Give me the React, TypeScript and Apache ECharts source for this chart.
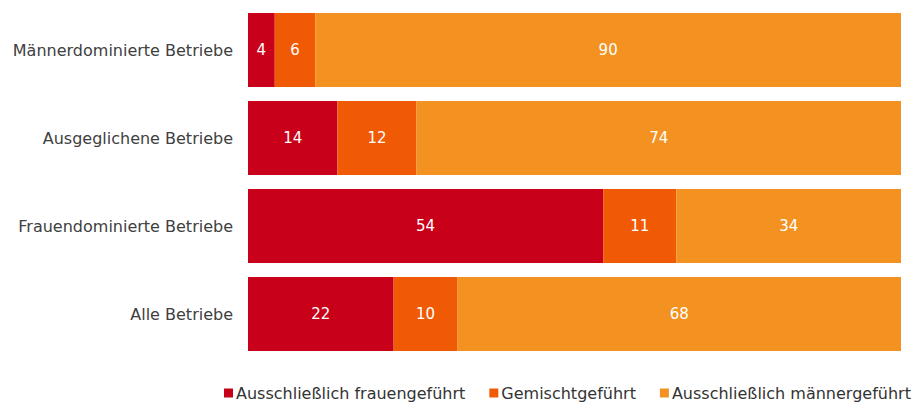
import React, { useEffect, useRef } from "react";
import * as echarts from "echarts";

const categories = [
  "Männerdominierte Betriebe",
  "Ausgeglichene Betriebe",
  "Frauendominierte Betriebe",
  "Alle Betriebe",
];
const seriesNames = [
  "Ausschließlich frauengeführt",
  "Gemischtgeführt",
  "Ausschließlich männergeführt",
];
const frauen = [4.1, 13.7, 54.4, 22.3];
const gemischt = [6.2, 12.1, 11.2, 9.8];
const maenner = [89.7, 74.2, 34.4, 67.9];
const colors = ["#C8001A", "#F05A05", "#F39220"];

export default function App() {
  const ref = useRef<HTMLDivElement>(null);
  useEffect(() => {
    if (!ref.current) return;
    const chart = echarts.init(ref.current, null, { renderer: "svg" });
    const font = "DejaVu Sans, Verdana, sans-serif";
    const data = [frauen, gemischt, maenner];
    chart.setOption({
      animation: false,
      textStyle: { fontFamily: font },
      grid: { left: 248, right: 16, top: 6, bottom: 45, containLabel: false },
      legend: {
        left: 219,
        top: 380,
        itemWidth: 9,
        itemHeight: 9,
        itemGap: 24,
        icon: "rect",
        textStyle: { fontSize: 16, color: "#333", fontFamily: font, padding: [0, 0, 0, -2] },
        data: seriesNames,
      },
      xAxis: {
        type: "value",
        min: 0,
        max: 100,
        show: false,
      },
      yAxis: {
        type: "category",
        data: categories,
        inverse: true,
        axisLine: { show: false },
        axisTick: { show: false },
        axisLabel: { fontSize: 16, color: "#404040", margin: 15, fontFamily: font },
      },
      series: seriesNames.map((name, i) => ({
        name,
        type: "bar",
        stack: "total",
        barCategoryGap: "16%",
        data: data[i],
        itemStyle: { color: colors[i] },
        label: {
          show: true,
          position: "inside",
          color: "#fff",
          fontSize: 15,
          fontFamily: font,
          formatter: (p: any) => String(Math.round(p.value)),
        },
      })),
    });
    return () => chart.dispose();
  }, []);
  return (
    <div
      ref={ref}
      style={{ position: "absolute", left: 0, top: 0, width: 917, height: 403 }}
    />
  );
}
